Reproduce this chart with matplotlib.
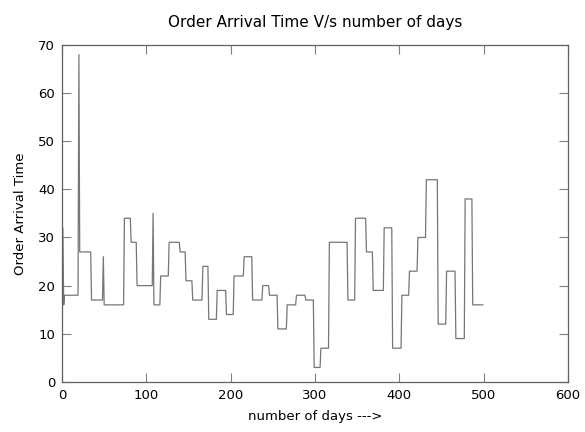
import numpy as np
import matplotlib
matplotlib.use('Agg')
import matplotlib.pyplot as plt

# day on which each level starts, and the level held until the next start
start_days = [0, 1, 2, 3, 20, 21, 35, 49, 50, 74, 82, 89, 108, 109, 117, 127,
              140, 147, 155, 167, 174, 184, 195, 204, 216, 226, 238, 246, 256,
              267, 278, 289, 299, 307, 317, 339, 348, 361, 369, 382, 392, 403,
              412, 422, 432, 446, 456, 467, 478, 487]
levels = [0, 32, 16, 18, 68, 27, 17, 26, 16, 34, 29, 20, 35, 16, 22, 29,
          27, 21, 17, 24, 13, 19, 14, 22, 26, 17, 20, 18, 11,
          16, 18, 17, 3, 7, 29, 17, 34, 27, 19, 32, 7, 18,
          23, 30, 42, 12, 23, 9, 38, 16]
last_day = 500

x_ticks = [0, 100, 200, 300, 400, 500, 600]
y_ticks = [0, 10, 20, 30, 40, 50, 60, 70]

# one value per day
run_lengths = np.diff(start_days + [last_day])
days = np.arange(last_day)
arrival = np.repeat(levels, run_lengths)

fig = plt.figure(figsize=(5.85, 4.32), dpi=100)
ax = fig.add_axes([0.106, 0.116, 0.865, 0.78])

ax.plot(days, arrival, color='#767676', lw=0.9)

ax.set_xlim(0, 600)
ax.set_ylim(0, 70)
ax.set_xticks(x_ticks)
ax.set_yticks(y_ticks)

ax.tick_params(direction='in', length=6.5, width=0.8, colors='#808080',
               labelcolor='black', labelsize=9.5, top=True, right=True, pad=5)
for s in ax.spines.values():
    s.set_color('#606060')
    s.set_linewidth(0.9)

ax.set_title('Order Arrival Time V/s number of days', fontsize=11, pad=13)
ax.set_xlabel('number of days --->', fontsize=9.5, labelpad=6)
ax.set_ylabel('Order Arrival Time', fontsize=9.5, labelpad=8)

fig.savefig('out.png', dpi=100)
